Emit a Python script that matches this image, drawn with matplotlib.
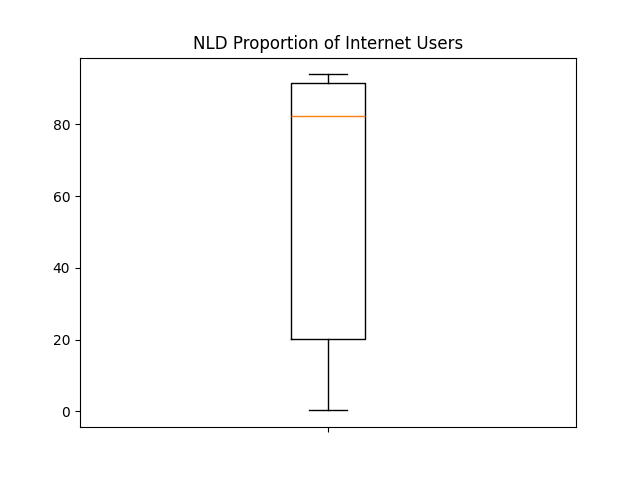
import matplotlib
matplotlib.use("Agg")
import matplotlib.pyplot as plt

# Netherlands: individuals using the internet (% of population), by year
years = list(range(1990, 2019))
internet_users = [0.3, 0.7, 1.3, 2.0, 3.3, 6.5, 9.2, 20.1, 25.0, 32.5,
                  44.0, 49.4, 61.3, 64.4, 82.2, 83.7, 85.8, 87.4, 89.6, 90.7,
                  91.4, 92.9, 93.9, 93.2, 91.4, 91.7, 92.0, 93.5, 93.8]

fig, ax = plt.subplots(figsize=(6.4, 4.8), dpi=100)
ax.boxplot(internet_users)
ax.set_title("NLD Proportion of Internet Users")
ax.set_xticklabels([""])

fig.savefig("out.png")
